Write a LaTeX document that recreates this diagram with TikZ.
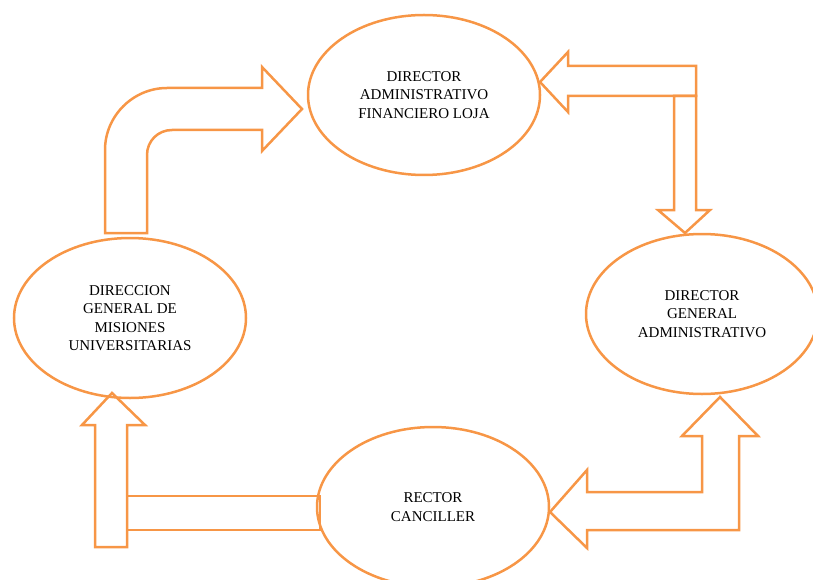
\documentclass[tikz,border=0pt]{standalone}
\usepackage{fontspec}
\setmainfont{Liberation Serif}
\usetikzlibrary{shapes.geometric}
\definecolor{accorange}{HTML}{F79646}

\begin{document}
\begin{tikzpicture}[x=1pt,y=-1pt,line join=miter]
  \tikzset{
    unit/.style={ellipse,draw=accorange,line width=2.5pt,inner sep=0pt,
      minimum width=232pt,minimum height=160pt,align=center,
      font=\fontsize{15}{18.5}\selectfont},
    blockarrow/.style={draw=accorange,line width=2.5pt}
  }
  \useasboundingbox (0,0) rectangle (813,580);

  % --- Units of the organisation ---
  \node[unit] (dafl) at (424,95)  {DIRECTOR\\ADMINISTRATIVO\\FINANCIERO LOJA};
  \node[unit] (dga)  at (702,314) {DIRECTOR\\GENERAL\\ADMINISTRATIVO};
  \node[unit] (dgmu) at (130,318) {DIRECCION\\GENERAL DE\\MISIONES\\UNIVERSITARIAS};
  \node[unit] (rc)   at (433,507) {RECTOR\\CANCILLER};

  % --- Bent arrow: dgmu up to dafl ---
  \draw[blockarrow] (105,233) -- (105,150) .. controls (105,116) and (133,88) .. (167,88)
    -- (262,88) -- (262,67) -- (302,109) -- (262,151) -- (262,130) -- (172,130)
    .. controls (158,130) and (147,141) .. (147,155) -- (147,233) -- cycle;

  % --- dafl <- corner -> dga ---
  \draw[blockarrow] (540,82) -- (568,52) -- (568,66) -- (696,66) -- (696,96)
    -- (568,96) -- (568,112) -- cycle;
  \draw[blockarrow] (674,96) -- (696,96) -- (696,210) -- (710,210) -- (685,233)
    -- (658,210) -- (674,210) -- cycle;

  % --- rc <- corner -> dga ---
  \draw[blockarrow] (550,512) -- (587,470) -- (587,492) -- (702,492) -- (702,436)
    -- (682,436) -- (720,397) -- (758,436) -- (739,436) -- (739,530)
    -- (587,530) -- (587,548) -- cycle;

  % --- rc bar and arrow up to dgmu ---
  \draw[blockarrow] (127,496) rectangle (320,530);
  \draw[blockarrow] (95,547) -- (95,425) -- (82,425) -- (112,393) -- (145,425)
    -- (127,425) -- (127,547) -- cycle;
\end{tikzpicture}
\end{document}
